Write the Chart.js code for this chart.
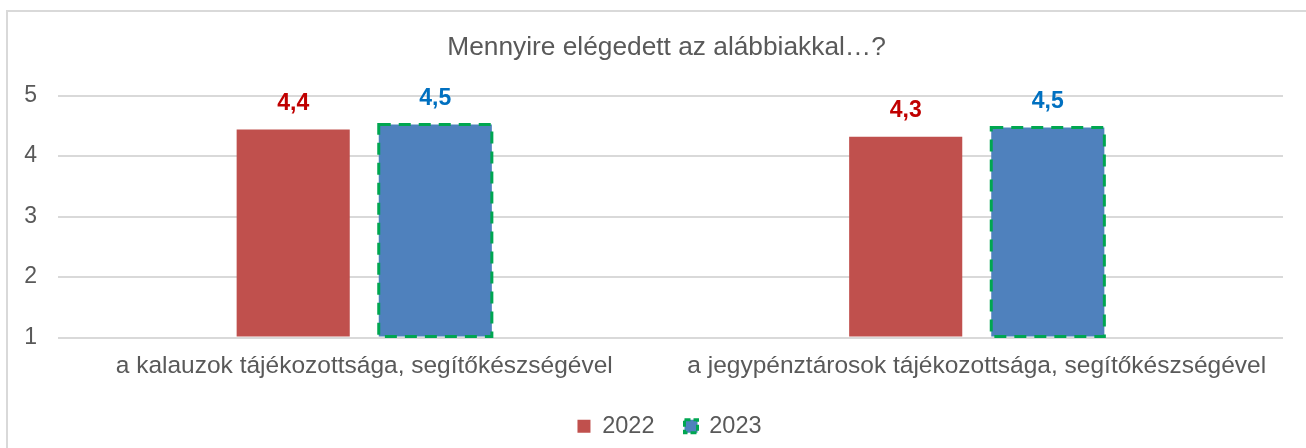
<!DOCTYPE html>
<html lang="hu">
<head>
<meta charset="UTF-8">
<title>Mennyire elégedett az alábbiakkal…?</title>
<script src="https://cdn.jsdelivr.net/npm/chart.js@4"></script>
<style>
  html, body { margin: 0; padding: 0; background: #fff; overflow: hidden; }
  .frame { position: absolute; left: 6px; top: 10px; width: 1320px; height: 460px;
           border-left: 2px solid #d9d9d9; border-top: 2px solid #d9d9d9; }
  .wrap { position: absolute; left: 0; top: 0; width: 1306px; height: 448px; }
</style>
</head>
<body>
<div class="frame"></div>
<div class="wrap"><canvas id="chart"></canvas></div>
<script>
const categories = [
  'a kalauzok tájékozottsága, segítőkészségével',
  'a jegypénztárosok tájékozottsága, segítőkészségével'
];
const seriesNames = ['2022', '2023'];
const values2022 = [4.44, 4.32];
const values2023 = [4.52, 4.47];
const yTicks = [1, 2, 3, 4, 5];

const TEXT = '#595959';
const FONT = "'Liberation Sans', Arial, sans-serif";
const DASH_GREEN = '#00a651';

// value labels above bars + dashed outline on 2023 bars
const barExtras = {
  id: 'barExtras',
  afterLayout(chart) {
    // title and legend sit a bit right of centre in the original
    chart.titleBlock.left += 25;
    chart.titleBlock.right += 25;
    chart.legend.left += 28;
    chart.legend.right += 28;
  },
  afterDatasetsDraw(chart) {
    const ctx = chart.ctx;
    const colors = ['#c00000', '#0070c0'];
    chart.data.datasets.forEach((ds, i) => {
      const meta = chart.getDatasetMeta(i);
      meta.data.forEach((bar, j) => {
        if (i === 1) {
          const left = bar.x - bar.width / 2;
          const bottom = Math.min(bar.base, chart.chartArea.bottom);
          ctx.save();
          ctx.strokeStyle = DASH_GREEN;
          ctx.lineWidth = 3;
          ctx.setLineDash([12, 8]);
          ctx.strokeRect(left, bar.y, bar.width, bottom - bar.y);
          ctx.restore();
        }
        ctx.save();
        ctx.fillStyle = colors[i];
        ctx.font = 'bold 23px ' + FONT;
        ctx.textAlign = 'center';
        ctx.textBaseline = 'middle';
        ctx.fillText(ds.data[j].toFixed(1).replace('.', ','), bar.x, bar.y - 26);
        ctx.restore();
      });
    });
  }
};

new Chart(document.getElementById('chart'), {
  type: 'bar',
  data: {
    labels: categories,
    datasets: [
      { label: seriesNames[0], data: values2022, backgroundColor: '#c0504d', base: 1,
        categoryPercentage: 0.464, barPercentage: 0.796 },
      { label: seriesNames[1], data: values2023, backgroundColor: '#4f81bd', base: 1,
        categoryPercentage: 0.464, barPercentage: 0.796 }
    ]
  },
  options: {
    responsive: true,
    maintainAspectRatio: false,
    animation: false,
    layout: { padding: { left: 0, right: 23, top: 0, bottom: 0 } },
    plugins: {
      tooltip: { enabled: false },
      title: {
        display: true,
        text: 'Mennyire elégedett az alábbiakkal…?',
        color: TEXT,
        font: { family: FONT, size: 26.3, weight: 'normal', lineHeight: 1.2 },
        padding: { top: 32, bottom: 32 }
      },
      legend: {
        position: 'bottom',
        labels: {
          color: TEXT,
          font: { family: FONT, size: 23.5 },
          boxWidth: 13,
          boxHeight: 13,
          padding: 30,
          generateLabels(chart) {
            return chart.data.datasets.map((ds, i) => ({
              text: ds.label,
              fillStyle: ds.backgroundColor,
              strokeStyle: i === 1 ? DASH_GREEN : ds.backgroundColor,
              lineWidth: i === 1 ? 3 : 0,
              lineDash: i === 1 ? [6, 3] : [],
              fontColor: TEXT,
              datasetIndex: i
            }));
          }
        }
      }
    },
    scales: {
      x: {
        afterFit(scale) { scale.height = 47; },
        grid: { display: false, drawTicks: false },
        border: { display: false },
        ticks: { color: TEXT, font: { family: FONT, size: 24.5 }, padding: 14, maxRotation: 0 }
      },
      y: {
        min: 1,
        max: 5,
        afterFit(scale) { scale.width = 58; },
        afterBuildTicks(scale) { scale.ticks = yTicks.map(v => ({ value: v })); },
        grid: { color: '#d9d9d9', lineWidth: 2, drawTicks: false },
        border: { display: false },
        ticks: { color: TEXT, font: { family: FONT, size: 23 }, padding: 21 }
      }
    }
  },
  plugins: [barExtras]
});
</script>
</body>
</html>
